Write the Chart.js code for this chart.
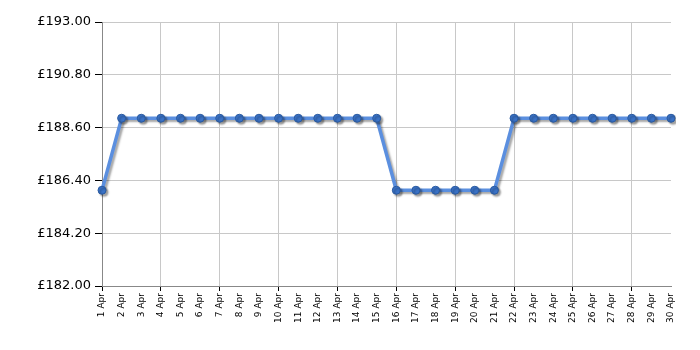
<!DOCTYPE html>
<html><head><meta charset="utf-8">
<script src="https://cdn.jsdelivr.net/npm/chart.js@4/dist/chart.umd.min.js"></script>
<style>html,body{margin:0;padding:0;background:#fff}#w{width:700px;height:350px}</style>
</head><body><div id="w"><canvas id="c"></canvas></div>
<script>
const labels = ["1 Apr","2 Apr","3 Apr","4 Apr","5 Apr","6 Apr","7 Apr","8 Apr","9 Apr","10 Apr","11 Apr","12 Apr","13 Apr","14 Apr","15 Apr","16 Apr","17 Apr","18 Apr","19 Apr","20 Apr","21 Apr","22 Apr","23 Apr","24 Apr","25 Apr","26 Apr","27 Apr","28 Apr","29 Apr","30 Apr"];
const prices = [185.99,188.99,188.99,188.99,188.99,188.99,188.99,188.99,188.99,188.99,188.99,188.99,188.99,188.99,188.99,185.99,185.99,185.99,185.99,185.99,185.99,188.99,188.99,188.99,188.99,188.99,188.99,188.99,188.99,188.99];
const yTicks = [182.00,184.20,186.40,188.60,190.80,193.00];

const shadow = {
  id:'shadow',
  beforeDatasetsDraw(c){c.ctx.save();c.ctx.shadowColor='rgba(0,0,0,0.35)';c.ctx.shadowOffsetX=2;c.ctx.shadowOffsetY=2;c.ctx.shadowBlur=2;},
  afterDatasetsDraw(c){c.ctx.restore();}
};

new Chart(document.getElementById('c'),{
  type:'line',
  data:{labels:labels,datasets:[{data:prices,borderColor:'#5b8fdf',borderWidth:3.5,pointRadius:4,pointBackgroundColor:'#3a72c6',pointBorderColor:'#2a5aa0',pointBorderWidth:1,tension:0,fill:false}]},
  options:{
    responsive:true,maintainAspectRatio:false,animation:false,
    layout:{padding:{left:0,right:29,top:22,bottom:0}},
    plugins:{legend:{display:false},tooltip:{enabled:false}},
    scales:{
      x:{
        offset:false,
        afterFit(s){s.height=64;},
        grid:{color:(ctx)=>ctx.index%3===0?'#c8c8c8':'rgba(0,0,0,0)',tickColor:(ctx)=>ctx.index%3===0?'#000':'rgba(0,0,0,0)',tickLength:5,lineWidth:1},
        border:{color:'#888',width:1},
        ticks:{autoSkip:false,maxRotation:90,minRotation:90,color:'#000',font:{family:'DejaVu Sans',size:9},padding:2}
      },
      y:{
        min:182,max:193,
        afterFit(s){s.width=102;},
        afterBuildTicks(s){s.ticks=yTicks.map(v=>({value:v}));},
        grid:{color:'#c8c8c8',tickColor:'#000',tickLength:7,lineWidth:1},
        border:{color:'#888',width:1},
        ticks:{color:'#000',font:{family:'DejaVu Sans',size:13},padding:4,callback:(v)=>'£'+Number(v).toFixed(2)}
      }
    }
  },
  plugins:[shadow]
});
</script></body></html>
